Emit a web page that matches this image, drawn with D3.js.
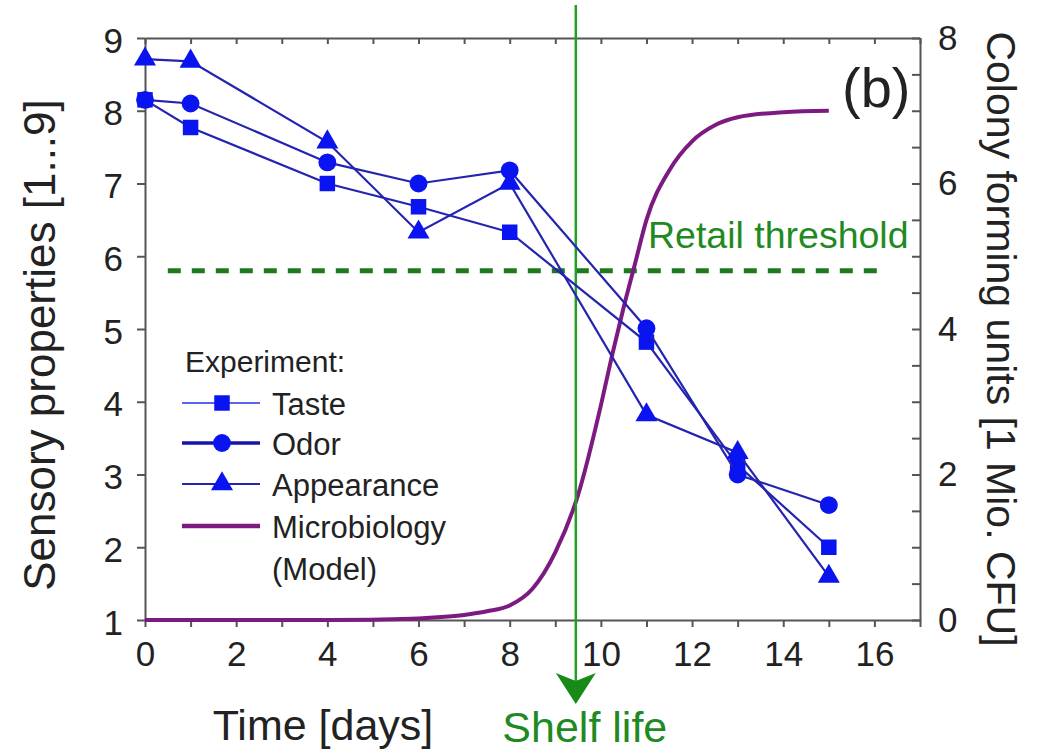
<!DOCTYPE html>
<html>
<head>
<meta charset="UTF-8">
<script src="https://d3js.org/d3.v7.min.js"></script>
<style>
  body { margin: 0; background: #fff; }
  svg { font-family: "Liberation Sans", Arial, sans-serif; }
  .axis path, .axis line { stroke: #555; stroke-width: 2; }
  .axis text { fill: #222; font-size: 35px; }
</style>
</head>
<body>
<svg width="1045" height="753"></svg>
<script>
// sensory panel scores
const days = [0, 1, 4, 6, 8, 11, 13, 15];
const taste = [8.15, 7.77, 7.0, 6.68, 6.33, 4.82, 3.13, 2.0];
const odor = [8.15, 8.1, 7.29, 7.0, 7.18, 5.01, 3.0, 2.58];
const appearance = [8.71, 8.68, 7.57, 6.33, 7.0, 3.82, 3.3, 1.6];

// microbiology model curve (1 Mio. CFU)
const microDays = [0, 2, 4, 5, 6, 6.5, 7, 7.5, 8, 8.5, 9, 9.5, 10, 10.25, 10.5, 10.75, 11, 11.5, 12, 12.5, 13, 14, 15];
const microCfu = [0, 0, 0, 0.005, 0.02, 0.04, 0.07, 0.12, 0.2, 0.43, 0.93, 1.72, 2.95, 3.65, 4.3, 4.9, 5.5, 6.18, 6.58, 6.8, 6.91, 6.98, 7.0];

const threshold = 5.8;
const thresholdFrom = 0.5, thresholdTo = 16.2;
const shelfLife = 9.45;

const legendItems = ["Taste", "Odor", "Appearance", "Microbiology"];

const svg = d3.select("svg");
const plotL = 145, plotR = 920, plotT = 38, plotB = 620;

const x = d3.scaleLinear().domain([0, 17]).range([plotL, plotR]);
const y = d3.scaleLinear().domain([1, 9]).range([plotB, plotT]);
const y2 = d3.scaleLinear().domain([0, 8]).range([plotB, plotT]);

const lineColor = "#2424b0", markColor = "#0a14f0";
const green = "#1f8a1f", purple = "#7d1a82";

// axes
svg.append("g").attr("class", "axis")
  .attr("transform", `translate(0,${plotB})`)
  .call(d3.axisBottom(x).tickValues(d3.range(0, 18)).tickSize(7).tickPadding(14)
    .tickSizeOuter(0).tickFormat(d => d % 2 === 0 && d <= 16 ? d : ""));

svg.append("g").attr("class", "axis")
  .attr("transform", `translate(0,${plotT})`)
  .call(d3.axisTop(x).tickValues(d3.range(0, 18)).tickSize(-6).tickSizeOuter(0).tickFormat(""));

svg.append("g").attr("class", "axis")
  .attr("transform", `translate(${plotL},0)`)
  .call(d3.axisLeft(y).ticks(8).tickSize(8).tickPadding(14).tickSizeOuter(0))
  .call(g => g.selectAll("text").attr("font-size", 37).attr("dy", "0.4em"));

svg.append("g").attr("class", "axis")
  .attr("transform", `translate(${plotR},0)`)
  .call(d3.axisRight(y2).tickValues(d3.range(0, 8.01, 0.5)).tickSize(-8).tickSizeOuter(0).tickFormat(""));

svg.append("g").attr("class", "axis")
  .attr("transform", `translate(${plotR},0)`)
  .call(d3.axisRight(y2).tickValues([0, 2, 4, 6, 8]).tickSize(0).tickPadding(18))
  .call(g => g.select(".domain").remove());

// axis titles
svg.append("text").attr("transform", `translate(55,${(95 + 595) / 2}) rotate(-90)`)
  .attr("text-anchor", "middle").attr("font-size", 44).attr("fill", "#222")
  .text("Sensory properties [1...9]");

svg.append("text").attr("transform", `translate(987,${(38 + 640) / 2}) rotate(90)`)
  .attr("text-anchor", "middle").attr("font-size", 41).attr("fill", "#222")
  .text("Colony forming units [1 Mio. CFU]");

svg.append("text").attr("x", 323).attr("y", 740)
  .attr("text-anchor", "middle").attr("font-size", 43).attr("fill", "#222")
  .text("Time [days]");

// retail threshold
svg.append("line")
  .attr("x1", x(thresholdFrom)).attr("x2", x(thresholdTo))
  .attr("y1", y(threshold)).attr("y2", y(threshold))
  .attr("stroke", "#1d7a1d").attr("stroke-width", 5).attr("stroke-dasharray", "13,11");

svg.append("text").attr("x", 648).attr("y", 248)
  .attr("font-size", 37.5).attr("fill", green).text("Retail threshold");

// microbiology curve
const micro = microDays.map((d, i) => [d, microCfu[i]]);
svg.append("path").datum(micro)
  .attr("fill", "none").attr("stroke", purple).attr("stroke-width", 4)
  .attr("d", d3.line().x(d => x(d[0])).y(d => y2(d[1])).curve(d3.curveMonotoneX));

// shelf life marker
const sx = x(shelfLife);
svg.append("line").attr("x1", sx).attr("x2", sx).attr("y1", 5).attr("y2", 685)
  .attr("stroke", "#22a022").attr("stroke-width", 2.5);
svg.append("path")
  .attr("d", `M${sx - 20},673 L${sx},681 L${sx + 20},673 L${sx},704 Z`)
  .attr("fill", "#178a17");
svg.append("text").attr("x", sx + 9).attr("y", 742)
  .attr("text-anchor", "middle").attr("font-size", 43).attr("fill", green)
  .text("Shelf life");

// sensory series
const symbols = [d3.symbolSquare, d3.symbolCircle, d3.symbolTriangle];
const sizes = [240, 250, 210];
const seriesList = [taste, odor, appearance];

seriesList.forEach((vals, k) => {
  const pts = days.map((d, i) => [d, vals[i]]);
  svg.append("path").datum(pts)
    .attr("fill", "none").attr("stroke", lineColor).attr("stroke-width", 2.2)
    .attr("d", d3.line().x(d => x(d[0])).y(d => y(d[1])));
  svg.selectAll(null).data(pts).enter().append("path")
    .attr("transform", d => `translate(${x(d[0])},${y(d[1])})`)
    .attr("d", d3.symbol().type(symbols[k]).size(sizes[k]))
    .attr("fill", markColor);
});

// panel label
svg.append("text").attr("x", 842).attr("y", 107)
  .attr("font-size", 56).attr("fill", "#222").text("(b)");

// legend
const lg = svg.append("g");
lg.append("text").attr("x", 185).attr("y", 372).attr("font-size", 30).attr("fill", "#222").text("Experiment:");
const rowY = [403, 443, 484, 526];
const legendStroke = ["#5a66f0", "#1414a8", "#2424b0", purple];
const legendWidth = [2, 3.5, 2, 4.5];
legendItems.forEach((name, i) => {
  lg.append("line").attr("x1", 182).attr("x2", 260).attr("y1", rowY[i]).attr("y2", rowY[i])
    .attr("stroke", legendStroke[i]).attr("stroke-width", legendWidth[i]);
  if (i < 3) {
    lg.append("path").attr("transform", `translate(222,${rowY[i]})`)
      .attr("d", d3.symbol().type(symbols[i]).size(sizes[i]))
      .attr("fill", markColor);
  }
  lg.append("text").attr("x", 272).attr("y", rowY[i] + 12).attr("font-size", 31).attr("fill", "#222").text(name);
});
lg.append("text").attr("x", 272).attr("y", 580).attr("font-size", 31).attr("fill", "#222").text("(Model)");
</script>
</body>
</html>
